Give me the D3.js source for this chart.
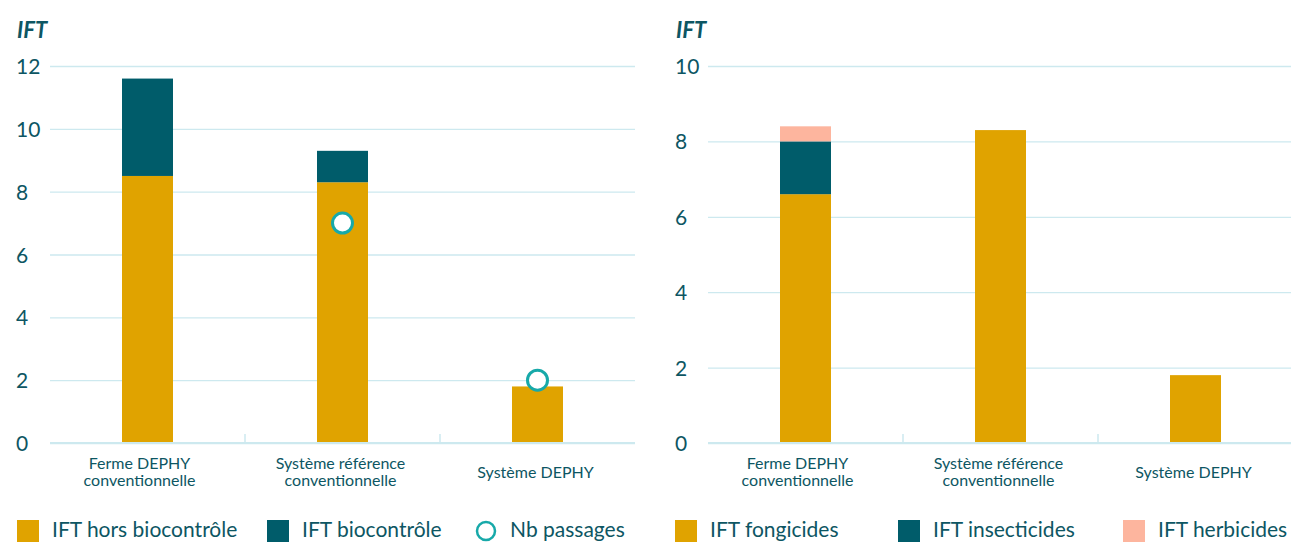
<!DOCTYPE html>
<html>
<head>
<meta charset="utf-8">
<script src="https://cdn.jsdelivr.net/npm/d3@7"></script>
<style>
  body { margin: 0; background: #fff; }
  svg { display: block; font-family: Lato, "Noto Sans", sans-serif; }
</style>
</head>
<body>
<div id="wrapper"></div>
<script>
// Data
const categories = ["Ferme DEPHY\nconventionnelle", "Système référence\nconventionnelle", "Système DEPHY"]

const iftHorsBiocontrole = [8.5, 8.3, 1.8]
const iftBiocontrole = [3.1, 1.0, 0]
const nbPassages = [null, 7, 2]
const leftTicks = [0, 2, 4, 6, 8, 10, 12]

const iftFongicides = [6.6, 8.3, 1.8]
const iftInsecticides = [1.4, 0, 0]
const iftHerbicides = [0.4, 0, 0]
const rightTicks = [0, 2, 4, 6, 8, 10]

const textColor = "#0d5663"
const gridColor = "#cde9ef"

const wrapper = d3.select("#wrapper")
    .append("svg")
        .attr("width", 1291)
        .attr("height", 542)

function drawChart(opts) {
    const { left, right, labelX, max, ticks, series, passages } = opts

    const rows = categories.map((c, i) => {
        const row = { cat: c }
        series.forEach(s => row[s.key] = s.values[i])
        return row
    })

    const xScale = d3.scaleBand()
        .domain(categories)
        .range([left, right])

    const yScale = d3.scaleLinear()
        .domain([0, max])
        .range([443, 66])

    const bounds = wrapper.append("g")

    // title
    bounds.append("text")
        .attr("x", labelX + 1)
        .attr("y", 38)
        .attr("fill", textColor)
        .style("font-size", "22px")
        .style("font-weight", "bold")
        .style("font-style", "italic")
        .text("IFT")

    // y axis with gridlines
    const yAxisGenerator = d3.axisLeft(yScale)
        .tickValues(ticks)
        .tickSize(-(right - left))
        .tickFormat(d3.format("d"))

    const yAxis = bounds.append("g")
        .attr("transform", `translate(${left},0)`)
        .call(yAxisGenerator)
    yAxis.select(".domain").remove()
    yAxis.selectAll("line")
        .attr("stroke", gridColor)
        .attr("stroke-width", 1.3)
    yAxis.selectAll("text")
        .attr("x", labelX - left)
        .attr("dy", "0.36em")
        .attr("text-anchor", "start")
        .attr("fill", textColor)
        .style("font-size", "21px")
        .style("font-family", "Lato, sans-serif")

    // stacked bars
    const stack = d3.stack().keys(series.map(s => s.key))
    const layers = stack(rows)
    const barWidth = 51

    bounds.append("g")
        .selectAll("g")
        .data(layers)
        .join("g")
            .attr("fill", (d, i) => series[i].color)
        .selectAll("rect")
        .data(d => d.filter(v => v[1] > v[0]))
        .join("rect")
            .attr("x", d => xScale(d.data.cat) + xScale.bandwidth() / 2 - barWidth / 2)
            .attr("y", d => yScale(d[1]))
            .attr("width", barWidth)
            .attr("height", d => yScale(d[0]) - yScale(d[1]))

    // baseline + separators
    bounds.append("line")
        .attr("x1", left).attr("x2", right)
        .attr("y1", yScale(0)).attr("y2", yScale(0))
        .attr("stroke", gridColor)
        .attr("stroke-width", 1.8)

    bounds.append("g")
        .selectAll("line")
        .data(categories.slice(1))
        .join("line")
            .attr("x1", d => xScale(d)).attr("x2", d => xScale(d))
            .attr("y1", yScale(0)).attr("y2", yScale(0) - 9)
            .attr("stroke", gridColor)
            .attr("stroke-width", 1.5)

    // category labels (first one sits a little left of its band centre)
    const catLabels = bounds.append("g")
        .selectAll("text")
        .data(categories)
        .join("text")
            .attr("text-anchor", "middle")
            .attr("fill", textColor)
            .style("font-size", "16px")
            .attr("transform", (d, i) => {
                const n = d.split("\n").length
                const shift = i === 0 ? -8 : -2
                return `translate(${xScale(d) + xScale.bandwidth() / 2 + shift},${n > 1 ? 469 : 478})`
            })
    catLabels.selectAll("tspan")
        .data(d => d.split("\n"))
        .join("tspan")
            .attr("x", 0)
            .attr("dy", (d, i) => i === 0 ? 0 : 17)
            .text(d => d)

    // markers
    if (passages) {
        bounds.append("g")
            .selectAll("circle")
            .data(categories.map((c, i) => ({ cat: c, v: passages[i] })).filter(d => d.v != null))
            .join("circle")
                .attr("cx", d => xScale(d.cat) + xScale.bandwidth() / 2)
                .attr("cy", d => yScale(d.v))
                .attr("r", 10)
                .attr("fill", "#fff")
                .attr("stroke", "#17a9a9")
                .attr("stroke-width", 3)
    }
}

drawChart({
    left: 50, right: 635, labelX: 16, max: 12, ticks: leftTicks,
    series: [
        { key: "hors", values: iftHorsBiocontrole, color: "#e0a300" },
        { key: "bio", values: iftBiocontrole, color: "#005c6a" },
    ],
    passages: nbPassages,
})

drawChart({
    left: 708, right: 1293, labelX: 675, max: 10, ticks: rightTicks,
    series: [
        { key: "fong", values: iftFongicides, color: "#e0a300" },
        { key: "insect", values: iftInsecticides, color: "#005c6a" },
        { key: "herb", values: iftHerbicides, color: "#fdb59e" },
    ],
    passages: null,
})

// legends
const legendItems = [
    { x: 17, label: "IFT hors biocontrôle", color: "#e0a300", type: "rect" },
    { x: 267, label: "IFT biocontrôle", color: "#005c6a", type: "rect" },
    { x: 476, label: "Nb passages", color: "#17a9a9", type: "circle" },
    { x: 675, label: "IFT fongicides", color: "#e0a300", type: "rect" },
    { x: 898, label: "IFT insecticides", color: "#005c6a", type: "rect" },
    { x: 1123, label: "IFT herbicides", color: "#fdb59e", type: "rect" },
]

const legend = wrapper.append("g")
    .selectAll("g")
    .data(legendItems)
    .join("g")
        .attr("transform", d => `translate(${d.x},520)`)

legend.filter(d => d.type === "rect")
    .append("rect")
        .attr("width", 22)
        .attr("height", 22)
        .attr("fill", d => d.color)

legend.filter(d => d.type === "circle")
    .append("circle")
        .attr("cx", 10)
        .attr("cy", 11)
        .attr("r", 9)
        .attr("fill", "#fff")
        .attr("stroke", d => d.color)
        .attr("stroke-width", 2.5)

legend.append("text")
    .attr("x", d => d.type === "circle" ? 34 : 35)
    .attr("y", 17)
    .attr("fill", textColor)
    .style("font-size", "21px")
    .text(d => d.label)
</script>
</body>
</html>
